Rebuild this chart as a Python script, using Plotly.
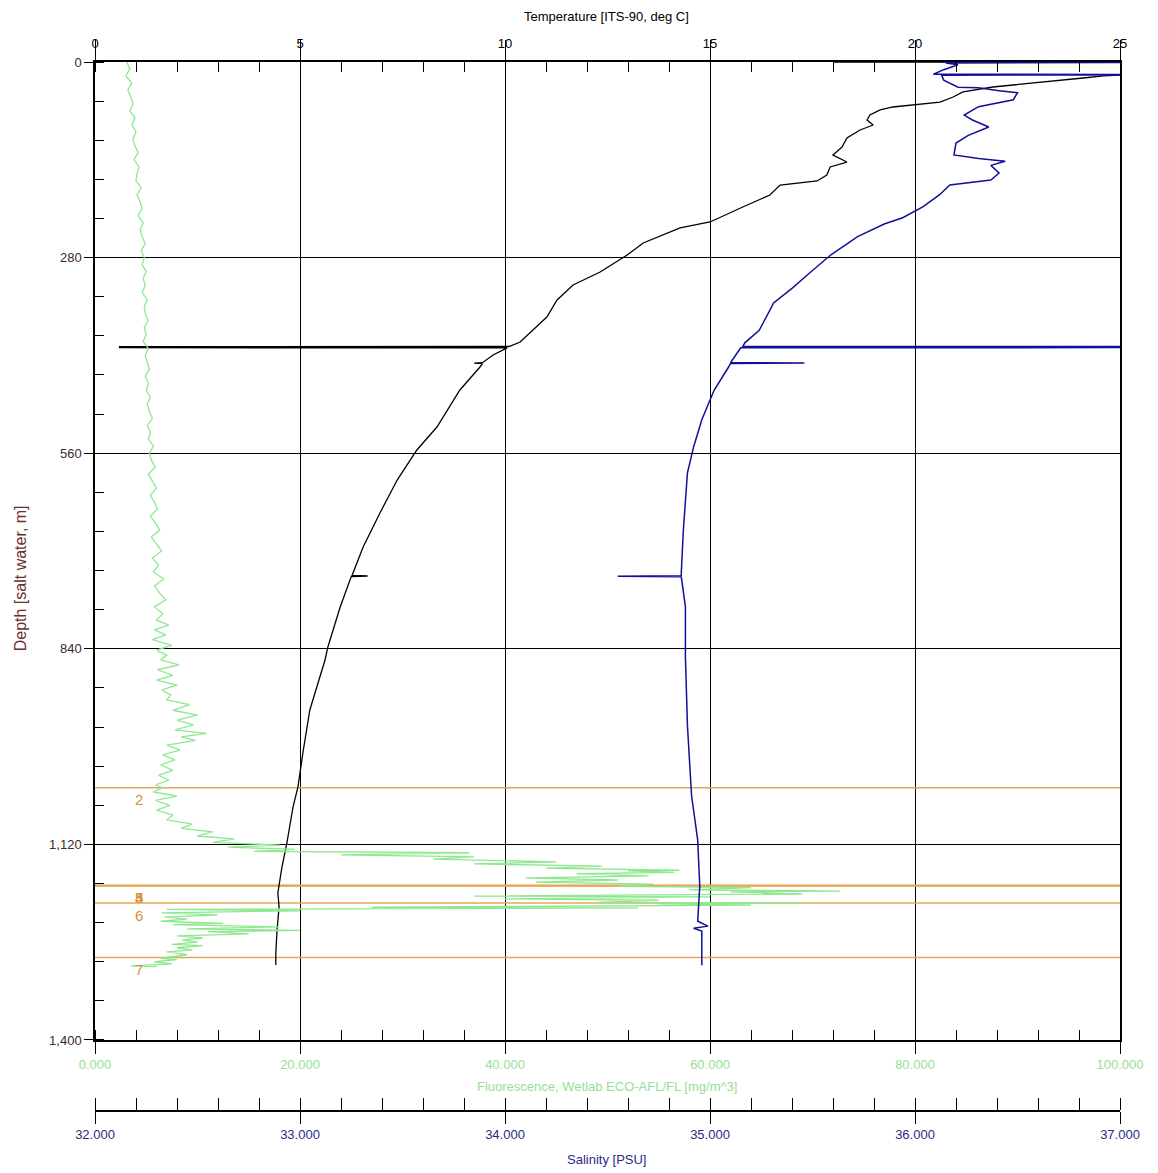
import plotly.graph_objects as go

# ---------------- data ----------------
temp_depth = [0, 0, 0.5, 18, 20, 22.9, 35.8, 42.9, 50.1, 57.3, 61.6, 64.4, 68.7, 75.9, 83.0, 90.2, 97.3,
              108.8, 121.7, 133.1, 143.2, 150.3, 161.8, 170.3, 176.1, 190.4, 207.6, 229.0, 237.6, 259.1,
              276.3, 300.6, 319.2, 340.7, 365.0, 383.6, 400.8, 407.3, 407.6, 409.0, 409.3, 419.4, 430.5,
              431.2, 431.9, 436.6, 469.5, 522.5, 555.4, 598.4, 645.6, 694.3, 735.0, 735.8, 736.6, 780.2,
              837.4, 856.0, 927.6, 989.2, 1037.8, 1066.5, 1118.0, 1152.4, 1189.6, 1209.6, 1242.5, 1275.5,
              1292.6]
temp_value = [18.0, 25.2, 25.2, 25.2, 24.6, 24.10, 21.90, 21.17, 20.93, 20.61, 20.0, 19.46, 19.15, 18.90,
              18.83, 18.98, 18.66, 18.34, 18.22, 18.0, 18.34, 17.93, 17.85, 17.61, 16.71, 16.46, 15.80,
              15.0, 14.27, 13.37, 12.98, 12.32, 11.66, 11.27, 11.02, 10.68, 10.37, 10.10, 0.6, 0.6, 10.05,
              9.71, 9.45, 9.25, 9.45, 9.39, 8.90, 8.34, 7.85, 7.37, 6.95, 6.54, 6.27, 6.65, 6.25, 5.98,
              5.68, 5.61, 5.24, 5.07, 4.95, 4.83, 4.68, 4.56, 4.46, 4.49, 4.44, 4.41, 4.41]

sal_depth = [0, 0.7, 1.4, 4, 11, 17.5, 18.0, 18.6, 18.9, 26, 36, 37, 41, 44, 54, 64, 76, 83, 93, 105, 116,
             133, 138, 142, 148, 159, 169, 176, 190, 207, 223, 232, 250, 276, 301, 324, 345, 351, 384,
             402, 407.2, 407.4, 408.8, 409.1, 422, 430.4, 431.0, 431.6, 437, 470, 512, 551, 588, 627,
             670, 731, 735.5, 736.2, 737, 780, 851, 950, 1050, 1114, 1180, 1230, 1237, 1240, 1244, 1293]
sal_value = [36.12, 37.05, 36.15, 36.21, 36.14, 36.09, 37.05, 37.05, 36.13, 36.14, 36.21, 36.31, 36.41,
             36.50, 36.48, 36.31, 36.24, 36.28, 36.36, 36.26, 36.20, 36.19, 36.31, 36.44, 36.37, 36.41,
             36.37, 36.17, 36.12, 36.04, 35.94, 35.85, 35.72, 35.59, 35.49, 35.40, 35.31, 35.30, 35.24,
             35.17, 35.16, 37.05, 37.05, 35.15, 35.12, 35.10, 35.46, 35.10, 35.09, 35.02, 34.96, 34.92,
             34.89, 34.88, 34.87, 34.86, 34.86, 34.55, 34.86, 34.88, 34.88, 34.89, 34.91, 34.94, 34.95,
             34.94, 34.99, 34.92, 34.96, 34.96]

fl_depth = [0, 10, 20, 30, 40, 50, 60, 70, 80, 90, 100, 110, 120, 130, 140, 150, 160, 170, 180, 190, 200,
            210, 220, 230, 240, 250, 260, 270, 280, 290, 300, 310, 320, 330, 340, 350, 360, 370, 380, 390,
            400, 410, 420, 430, 440, 450, 460, 470, 480, 490, 500, 510, 520, 530, 540, 550, 560, 570, 580,
            590, 600, 610, 620, 630, 640, 650, 660, 670, 680, 690, 700, 710, 720, 730, 740, 750, 760, 770,
            780, 790,
            799, 806, 813, 820, 827, 835, 842, 849, 856, 863, 870, 878, 885, 892, 899, 906, 913, 920, 928,
            935, 942, 949, 956, 961, 966, 971, 978, 985, 992, 999, 1006, 1014, 1021, 1028, 1035, 1039,
            1045, 1051, 1057, 1064, 1071, 1078, 1085, 1091, 1097, 1102, 1108, 1112, 1117, 1121, 1124,
            1127, 1130, 1132, 1135, 1138, 1141, 1145, 1148, 1151, 1154, 1157, 1158, 1160, 1162, 1165,
            1168, 1171, 1174, 1177, 1180, 1182, 1185, 1187, 1188, 1191, 1194, 1195, 1198, 1200, 1203,
            1204, 1205, 1207, 1210, 1211, 1213, 1215, 1218, 1221, 1224, 1227, 1230, 1233, 1235, 1238,
            1241, 1243, 1245, 1248, 1251, 1254, 1257, 1260, 1263, 1265, 1268, 1271, 1274, 1278, 1283,
            1285, 1288, 1291, 1294, 1295]
fl_value = [3.1, 3.4, 3.0, 3.6, 3.2, 3.5, 3.7, 3.4, 3.9, 3.6, 4.0, 3.7, 3.9, 4.2, 3.8, 4.3, 4.1, 4.0, 4.5,
            4.1, 4.4, 4.6, 4.2, 4.7, 4.4, 4.6, 4.9, 4.5, 4.8, 4.6, 5.0, 4.7, 4.9, 4.6, 5.1, 4.8, 4.9, 5.2,
            4.8, 5.0, 4.7, 5.2, 4.9, 5.1, 5.3, 4.9, 5.2, 5.0, 5.4, 5.1, 5.3, 5.6, 5.1, 5.4, 5.2, 5.7, 5.3,
            5.5, 5.9, 5.2, 5.6, 6.0, 5.4, 5.8, 6.1, 5.4, 5.9, 6.3, 5.5, 6.0, 6.5, 5.6, 6.2, 5.7, 6.7, 5.8,
            6.3, 6.9, 5.8, 6.6,
            6.0, 7.2, 5.8, 6.9, 5.6, 7.5, 6.0, 7.0, 6.4, 8.2, 6.1, 7.6, 6.0, 8.0, 6.5, 7.4, 7.0, 9.2, 7.6,
            10.0, 8.0, 9.6, 7.8, 10.9, 8.4, 9.8, 7.0, 8.3, 6.6, 7.8, 6.4, 7.6, 6.2, 7.2, 5.9, 6.6, 5.7,
            8.0, 5.9, 7.3, 6.0, 7.6, 7.0, 9.5, 8.4, 11.5, 10.0, 13.6, 11.5, 18.0, 13.0, 19.5, 15.5, 36.5,
            24.0, 37.0, 33.0, 45.0, 37.0, 49.5, 44.0, 57.0, 52.0, 56.5, 47.0, 54.0, 42.0, 51.0, 43.0, 54.5,
            51.0, 64.0, 58.0, 72.7, 62.0, 69.0, 37.0, 60.0, 40.0, 55.0, 49.0, 68.9, 55.0, 64.0, 27.0, 53.0,
            7.0, 20.0, 6.5, 12.0, 6.8, 9.0, 6.4, 12.5, 7.6, 18.0, 9.0, 20.0, 11.0, 15.0, 8.0, 10.5, 8.5,
            10.0, 7.5, 10.5, 8.0, 9.5, 7.0, 9.0, 6.4, 8.0, 5.8, 7.5, 3.5, 6.0]

bottle_depth = [1039, 1179, 1179, 1179, 1204, 1282]
bottle_label = ["2", "3", "4", "5", "6", "7"]

temp_ticks = [0, 5, 10, 15, 20, 25]
depth_ticks = [0, 280, 560, 840, 1120, 1400]
fl_ticks = [0, 20, 40, 60, 80, 100]
sal_ticks = [32, 33, 34, 35, 36, 37]

# ---------------- styles ----------------
FONT = "Liberation Sans, Arial, sans-serif"
GREEN = "#8fe88f"
GREEN_TXT = "#95e095"
BLUE = "#10109a"
NAVY_TXT = "#2b2b85"
ORANGE = "#e6a65a"
ORANGE_TXT = "#d8903a"
BROWN = "#6a2f2f"

fig = go.Figure()

fig.add_trace(go.Scatter(x=fl_value, y=fl_depth, xaxis="x2", yaxis="y", mode="lines",
                         line=dict(color=GREEN, width=1.3), showlegend=False, hoverinfo="skip"))

for d in bottle_depth:
    fig.add_trace(go.Scatter(x=[temp_ticks[0], temp_ticks[-1]], y=[d, d], xaxis="x", yaxis="y",
                             mode="lines", line=dict(color=ORANGE, width=1.6),
                             showlegend=False, hoverinfo="skip"))

fig.add_trace(go.Scatter(x=temp_value, y=temp_depth, xaxis="x", yaxis="y", mode="lines",
                         line=dict(color="black", width=1.3), showlegend=False))
fig.add_trace(go.Scatter(x=sal_value, y=sal_depth, xaxis="x3", yaxis="y", mode="lines",
                         line=dict(color=BLUE, width=1.5), showlegend=False))

annotations = []
for d, lab in zip(bottle_depth, bottle_label):
    annotations.append(dict(x=0.037, xref="paper", y=d, yref="y", text=lab, showarrow=False,
                            yshift=-12, font=dict(family=FONT, size=15, color=ORANGE_TXT)))

# axis titles
annotations.append(dict(x=0.4995, xref="paper", y=1.043, yref="paper", text="Temperature [ITS-90, deg C]",
                        showarrow=False, font=dict(family=FONT, size=13, color="black"),
                        xanchor="center", yanchor="middle"))
annotations.append(dict(x=0.4995, xref="paper", y=0.0229, yref="paper",
                        text="Fluorescence, Wetlab ECO-AFL/FL [mg/m^3]",
                        showarrow=False, font=dict(family=FONT, size=13, color=GREEN_TXT),
                        xanchor="center", yanchor="middle"))
annotations.append(dict(x=0.4995, xref="paper", y=-0.0467, yref="paper", text="Salinity [PSU]",
                        showarrow=False, font=dict(family=FONT, size=13, color=NAVY_TXT),
                        xanchor="center", yanchor="middle"))
annotations.append(dict(x=-0.073, xref="paper", y=0.508, yref="paper", text="Depth [salt water, m]",
                        showarrow=False, textangle=-90, font=dict(family=FONT, size=16, color=BROWN),
                        xanchor="center", yanchor="middle"))

fig.update_layout(
    width=1150, height=1165,
    margin=dict(l=87, r=38, t=54, b=62, pad=0),
    paper_bgcolor="white", plot_bgcolor="white",
    font=dict(family=FONT, size=13, color="black"),
    showlegend=False,
    annotations=annotations,
    xaxis=dict(
        range=[temp_ticks[0], temp_ticks[-1]], side="top", anchor="y",
        tickvals=temp_ticks, tickformat="d",
        ticks="outside", ticklen=20, tickcolor="black", tickwidth=1.2,
        ticklabelstandoff=-13,
        showline=True, linecolor="black", linewidth=1.5,
        showgrid=True, gridcolor="black", gridwidth=1, zeroline=False,
        minor=dict(dtick=1, tick0=0, ticks="inside", ticklen=10, tickcolor="black", tickwidth=1.2,
                   showgrid=False),
        tickfont=dict(family=FONT, size=13, color="black"),
    ),
    xaxis2=dict(
        range=[fl_ticks[0], fl_ticks[-1]], overlaying="x", side="bottom", anchor="y",
        tickvals=fl_ticks, tickformat=".3f",
        ticks="outside", ticklen=12, tickcolor="black", tickwidth=1.2,
        showline=True, linecolor="black", linewidth=1.5,
        showgrid=False, zeroline=False,
        minor=dict(dtick=4, tick0=0, ticks="inside", ticklen=10, tickcolor="black", tickwidth=1.2,
                   showgrid=False),
        tickfont=dict(family=FONT, size=13, color=GREEN_TXT),
    ),
    xaxis3=dict(
        range=[sal_ticks[0], sal_ticks[-1]], overlaying="x", side="bottom", anchor="free", position=0,
        tickvals=sal_ticks, tickformat=".3f",
        ticks="outside", ticklen=12, tickcolor="black", tickwidth=1.2,
        showline=True, linecolor="black", linewidth=1.5,
        showgrid=False, zeroline=False,
        minor=dict(dtick=0.2, tick0=32, ticks="inside", ticklen=12, tickcolor="black", tickwidth=1.2,
                   showgrid=False),
        tickfont=dict(family=FONT, size=13, color=NAVY_TXT),
    ),
    yaxis=dict(
        range=[depth_ticks[-1], depth_ticks[0]], domain=[0.0677, 1],
        tickvals=depth_ticks, tickformat=",d",
        ticks="outside", ticklen=9, tickcolor="black", tickwidth=1.2,
        showline=True, linecolor="black", linewidth=1.5, mirror=True,
        showgrid=True, gridcolor="black", gridwidth=1, zeroline=False,
        minor=dict(dtick=56, tick0=0, ticks="inside", ticklen=9, tickcolor="black", tickwidth=1.2,
                   showgrid=False),
        tickfont=dict(family=FONT, size=13, color="#3a2a2a"),
    ),
)

fig.write_html("out.html")
